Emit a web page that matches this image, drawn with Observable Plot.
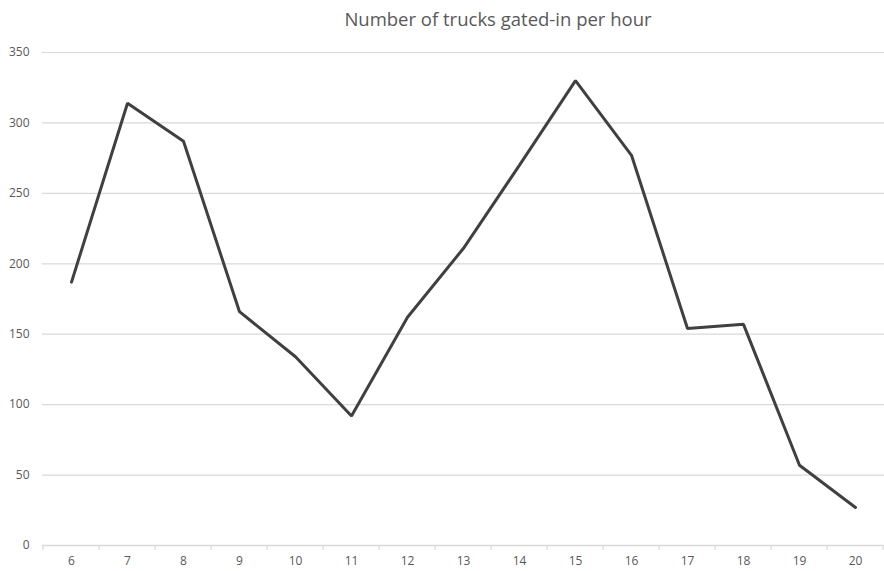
<!DOCTYPE html>
<html>
<head>
<meta charset="utf-8">
<script src="https://cdn.jsdelivr.net/npm/d3@7"></script>
<script src="https://cdn.jsdelivr.net/npm/@observablehq/plot@0.6"></script>
<style>
  body { margin: 0; background: #fff; font-family: "Open Sans", sans-serif; }
  #wrap { position: relative; width: 884px; height: 571px; }
  #title { position: absolute; left: 198px; top: 6px; width: 600px; height: 30px; text-align: center;
           font-family: "Open Sans", sans-serif; font-size: 18.5px; color: #595959; line-height: 26px; }
  #chart { position: absolute; left: 0; top: 40px; }
</style>
</head>
<body>
<div id="wrap">
  <div id="title">Number of trucks gated-in per hour</div>
  <div id="chart"></div>
</div>
<script>
const hours = [6, 7, 8, 9, 10, 11, 12, 13, 14, 15, 16, 17, 18, 19, 20];
const trucks = [187, 314, 287, 166, 134, 92, 162, 211, 270, 330, 277, 154, 157, 57, 27];
const yTicks = [0, 50, 100, 150, 200, 250, 300, 350];

const data = hours.map((h, i) => ({hour: h, value: trucks[i]}));

const W = 884, H = 531;

const plot = Plot.plot({
  width: W,
  height: H,
  marginLeft: 42,
  marginRight: 0,
  marginTop: 12,
  marginBottom: 26,
  style: {fontFamily: "Open Sans, sans-serif", fontSize: "12px", color: "#595959", background: "#fff"},
  x: {type: "point", domain: hours, padding: 0.5, axis: null},
  y: {domain: [0, 350], axis: null},
  marks: [
    Plot.ruleY(yTicks.filter(d => d > 0), {stroke: "#d9d9d9", strokeWidth: 1.2}),
    Plot.ruleY([0], {stroke: "#d9d9d9", strokeWidth: 1.5}),
    Plot.axisY(yTicks, {tickSize: 0, tickPadding: 13, fill: "#595959", fontSize: 12, label: null}),
    Plot.axisX(hours, {tickSize: 0, tickPadding: 11, fill: "#595959", fontSize: 12, label: null}),
    Plot.line(data, {x: "hour", y: "value", stroke: "#404040", strokeWidth: 3, strokeLinejoin: "miter"})
  ]
});

// tick marks at category boundaries, computed from the plot's own x scale
const sx = plot.scale("x");
const step = sx.step;
const y0 = plot.scale("y").apply(0);
const g = d3.select(plot).append("g").attr("stroke", "#d9d9d9").attr("stroke-width", 1.2);
hours.forEach((h, i) => {
  const x = sx.apply(h) - step / 2;
  g.append("line").attr("x1", x).attr("x2", x).attr("y1", y0).attr("y2", y0 + 5);
});
{
  const x = sx.apply(hours[hours.length - 1]) + step / 2;
  g.append("line").attr("x1", x).attr("x2", x).attr("y1", y0).attr("y2", y0 + 5);
}

document.getElementById("chart").appendChild(plot);
</script>
</body>
</html>
